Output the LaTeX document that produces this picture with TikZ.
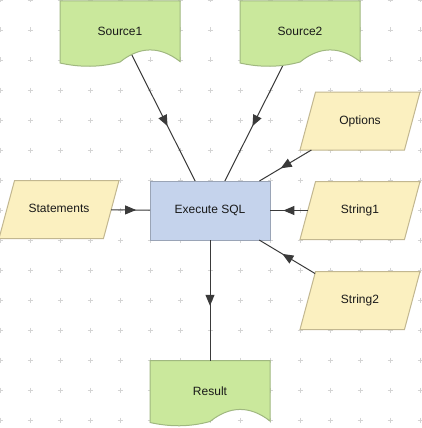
\documentclass[tikz,border=0pt]{standalone}
\usepackage{fontspec}
\setmainfont{Liberation Sans}
\usetikzlibrary{arrows.meta,shapes.geometric,decorations.markings,calc}
\definecolor{gridc}{HTML}{D4D4D4}
\definecolor{greenfill}{HTML}{CAE89C}
\definecolor{greenline}{HTML}{A0B880}
\definecolor{yellowfill}{HTML}{FBF0C0}
\definecolor{yellowline}{HTML}{C2B790}
\definecolor{bluefill}{HTML}{C5D3EC}
\definecolor{blueline}{HTML}{9AA4B6}
\definecolor{edgec}{HTML}{3A3A3A}
\pgfdeclarelayer{bg}
\pgfsetlayers{bg,main}
\newcommand\docshape[2]{%
  \filldraw[docst] (#1.north west) -- (#1.north east) -- ($(#1.south east)+(0,-0.5)$)
    .. controls ($(#1.south east)+(-20,-16)$) and ($(#1.south)+(20,-16)$) .. (#1.south)
    .. controls ($(#1.south)+(-20,5.5)$) and ($(#1.south west)+(20,5.5)$) .. ($(#1.south west)+(0,1)$) -- cycle;%
  \node[lbl] at (#1.center) {#2};}
\tikzset{
  lbl/.style={font=\fontsize{12}{14}\selectfont, text=black!90},
  docbox/.style={rectangle, draw=none, minimum width=120, minimum height=61, inner sep=0pt, outer sep=0pt},
  docst/.style={fill=greenfill, draw=greenline, line width=1pt},
  para/.style={trapezium, trapezium left angle=75, trapezium right angle=105,
    trapezium stretches body, minimum width=120, inner xsep=0pt, inner ysep=23.5pt,
    text height=8.6pt, text depth=2.4pt, outer sep=0pt,
    draw=yellowline, fill=yellowfill, line width=1pt, lbl},
  procbox/.style={rectangle, minimum width=120, minimum height=59, inner sep=0pt, outer sep=0pt,
    draw=blueline, fill=bluefill, line width=1pt, lbl},
  edge/.style={draw=edgec, line width=1pt},
  midarrow/.style={postaction={decorate, decoration={markings,
    mark=at position #1 with {\arrow[xshift=5.5pt]{Triangle[length=11pt,width=9pt]}}}}},
  midarrow/.default=0.5,
  gridmark/.style={draw=gridc, line width=0.8pt}
}
\begin{document}
\begin{tikzpicture}[x=1pt,y=-1pt]
\useasboundingbox (0,0) rectangle (421,428);
% nodes
\node[procbox] (ex) at (210,210.5) {Execute SQL};
\node[docbox] (s1) at (120,31.5) {};
\node[docbox] (s2) at (300,31.5) {};
\node[docbox] (res) at (210,391) {};
\node[para] (st) at (59,209.5) {Statements};
\node[para] (opt) at (360,121) {Options};
\node[para] (str1) at (360,210.5) {String1};
\node[para] (str2) at (360,300.5) {String2};
\begin{pgfonlayer}{bg}
  \fill[white] (0,0) rectangle (421,428);
  \foreach \x in {0,30,...,420}
    \foreach \y in {0,30,...,420}
      \draw[gridmark] (\x-2.5,\y) -- (\x+2.5,\y) (\x,\y-2.5) -- (\x,\y+2.5);
  \draw[edge, midarrow=0.6] (s1.center) -- (ex);
  \draw[edge, midarrow=0.6] (s2.center) -- (ex);
\end{pgfonlayer}
\docshape{s1}{Source1}
\docshape{s2}{Source2}
\docshape{res}{Result}
\draw[edge, midarrow] (st) -- (ex);
\draw[edge, midarrow] (opt) -- (ex);
\draw[edge, midarrow] (str1) -- (ex);
\draw[edge, midarrow] (str2) -- (ex);
\draw[edge, midarrow] (ex) -- (res);
\end{tikzpicture}
\end{document}
